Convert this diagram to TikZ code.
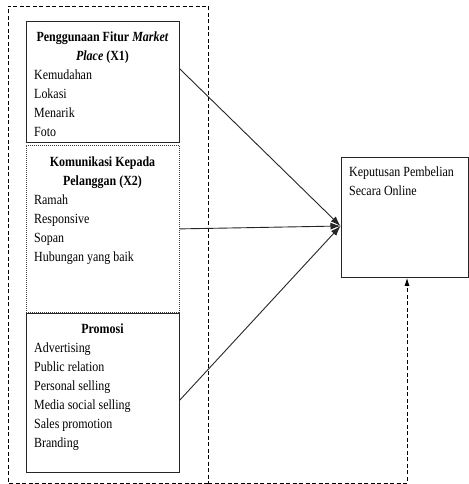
\documentclass[tikz,border=0pt]{standalone}
\usepackage{fontspec}
\setmainfont[FakeStretch=0.855]{Liberation Serif}
\usetikzlibrary{arrows.meta}
\begin{document}
\begin{tikzpicture}[x=1pt,y=-1pt,
  box/.style={draw=black!85,line width=0.9pt,anchor=north west,inner sep=0pt},
  dotbox/.style={draw=black!75,line width=0.8pt,dash pattern=on 1pt off 1pt,anchor=north west,inner sep=0pt},
  frame/.style={draw=black,line width=0.8pt,dash pattern=on 4pt off 2.5pt},
  ttl/.style={font=\fontsize{14}{19}\selectfont\bfseries,align=center,anchor=north,inner sep=0pt},
  lst/.style={font=\fontsize{14}{19}\selectfont,align=left,anchor=north west,inner sep=0pt},
  conn/.style={draw=black!85,line width=0.9pt,-{Latex[length=10pt,width=7pt]}},
  up/.style={frame,-{Latex[length=8pt,width=5pt]}},
]
\useasboundingbox (0,0) rectangle (468,484);
\fill[white] (0,0) rectangle (468,484);

% boxes
\node[box,minimum width=153pt,minimum height=121pt] (x1) at (26,21) {};
\node[dotbox,minimum width=153pt,minimum height=167pt] (x2) at (26,145) {};
\node[box,minimum width=153pt,minimum height=159pt] (x3) at (26,313) {};
\node[box,minimum width=127pt,minimum height=120pt] (y) at (340.5,157) {};

% texts
\node[ttl] (t1) at (102.5,28) {\strut Penggunaan Fitur \textit{Market}\\\textit{Place} (X1)};
\node[lst] (l1) at (34,66) {\strut Kemudahan\\Lokasi\\Menarik\\Foto};
\node[ttl] (t2) at (102.5,153) {\strut Komunikasi Kepada\\Pelanggan (X2)};
\node[lst] (l2) at (34,191) {\strut Ramah\\Responsive\\Sopan\\Hubungan yang baik};
\node[ttl] (t3) at (102.5,320) {\strut Promosi};
\node[lst] (l3) at (34,339) {\strut Advertising\\Public relation\\Personal selling\\Media social selling\\Sales promotion\\Branding};
\node[lst] (ly) at (349,163) {\strut Keputusan Pembelian\\Secara Online};

% outer dashed frame
\draw[frame] (208,483) -- (8,483) -- (8,6) -- (208,6) -- cycle;
\coordinate (c) at (407,483);
\draw[up] (208,483) -- (c) -- (y.south -| c);

% connectors
\coordinate (tgt) at (340.5,226);
\draw[conn] ([yshift=-48pt]x1.north east) -- (tgt);
\draw[conn] (x2.east) -- (tgt);
\draw[conn] ([yshift=-87pt]x3.north east) -- (tgt);
\end{tikzpicture}
\end{document}
